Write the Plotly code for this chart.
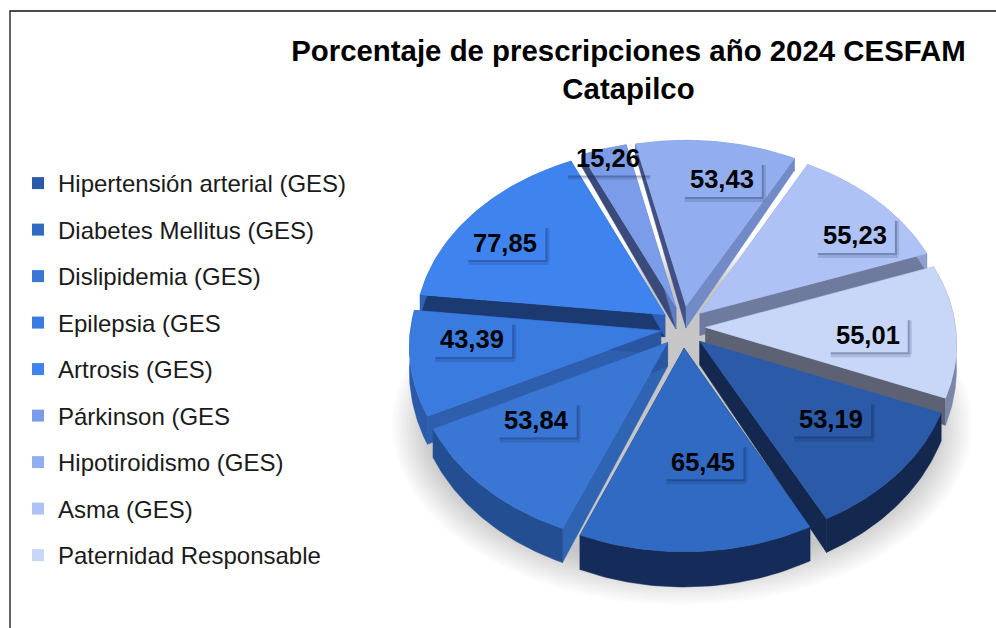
import numpy as np
import plotly.graph_objects as go

categories = ["Hipertensión arterial (GES)", "Diabetes Mellitus (GES)", "Dislipidemia (GES)",
              "Epilepsia (GES", "Artrosis (GES)", "Párkinson (GES", "Hipotiroidismo (GES)",
              "Asma (GES)", "Paternidad Responsable"]
values = [53.19, 65.45, 53.84, 43.39, 77.85, 15.26, 53.43, 55.23, 55.01]
value_labels = ["53,19", "65,45", "53,84", "43,39", "77,85", "15,26", "53,43", "55,23", "55,01"]
title_text = "Porcentaje de prescripciones año 2024 CESFAM<br>Catapilco"

# styles
top_colors = ["#2a5aa8", "#306ac2", "#3a76d4", "#3a7be0", "#3f84ee", "#7b9de9", "#92aeef", "#aec2f5", "#c8d6f8"]
start_wall = ["#5f6a8a", "#152c5a", "#2f63b4", "#2e5fae", "#1c3a72", "#3a4a7a", "#414f84", "#8f9fd0", "#9aa6c8"]
end_wall = ["#14274f", "#1d3f7c", "#2a55a0", "#2a55a0", "#2f5fb8", "#5f7cc0", "#728bc8", "#6e7a9e", "#5c6274"]
outer_wall = ["#14274f", "#152c5a", "#234f92", "#2a5aa8", "#2c62b8", "#5f7cc0", "#728bc8", "#8f9fd0", "#7c86a6"]
label_shift = [(-5, -13), (11, -25), (-5, -22), (-14, -14), (-24, 0), (-16, -36), (14, -9), (29, 2), (-13, 5)]
FONT = "Liberation Sans, Arial"

# geometry model
CX, CY, RX, RY, K, EXPLODE_X, EXPLODE_Y, THETA0 = 683, 327, 250, 183, 0.0826, 0.09, 0.115, np.deg2rad(112)
BOX_W, BOX_H = 80, 35


def project(X, Y, drop=False):
    s = 1 / (1 + K * Y)
    d = (23 - 11 * Y) if drop else 0
    return CX + RX * X * s, CY - RY * Y * s + d


fractions = np.array(values) / np.sum(values) * 2 * np.pi
ends = THETA0 + np.cumsum(fractions)
starts = ends - fractions
mids = (starts + ends) / 2
order = np.argsort(-np.cos(mids))

fig = go.Figure()


def poly(x, y, color):
    fig.add_trace(go.Scatter(x=np.append(x, x[0]), y=np.append(y, y[0]), mode="lines", fill="toself",
                             fillcolor=color, line=dict(color=color, width=0.5), hoverinfo="skip",
                             showlegend=False))


for i in order:
    ox, oy = EXPLODE_X * np.sin(mids[i]), EXPLODE_Y * np.cos(mids[i])
    t = np.linspace(starts[i], ends[i], 50)
    rim_X, rim_Y = ox + np.sin(t), oy + np.cos(t)
    tx, ty = project(rim_X, rim_Y)
    bx, by = project(rim_X, rim_Y, True)
    ax, ay = project(np.array([ox]), np.array([oy]))
    bax, bay = project(np.array([ox]), np.array([oy]), True)
    poly(np.array([ax[0], tx[0], bx[0], bax[0]]), np.array([ay[0], ty[0], by[0], bay[0]]), start_wall[i])
    poly(np.array([ax[0], tx[-1], bx[-1], bax[0]]), np.array([ay[0], ty[-1], by[-1], bay[0]]), end_wall[i])
    poly(np.concatenate([tx, bx[::-1]]), np.concatenate([ty, by[::-1]]), outer_wall[i])
    poly(np.concatenate([ax, tx]), np.concatenate([ay, ty]), top_colors[i])

# soft ground shadow
shapes = []
for j in range(20):
    f = j / 19
    shapes.append(dict(type="circle", xref="x", yref="y", layer="below",
                       x0=682 - 290 + 40 * f, x1=682 + 290 - 40 * f,
                       y0=425 - 180 + 40 * f, y1=425 + 180 - 40 * f,
                       line=dict(width=0), fillcolor="rgba(110,110,110,0.02)"))

annos = []
for i in range(len(values)):
    ox, oy = EXPLODE_X * np.sin(mids[i]), EXPLODE_Y * np.cos(mids[i])
    lx, ly = project(ox + 0.7 * np.sin(mids[i]), oy + 0.7 * np.cos(mids[i]))
    lx += label_shift[i][0]
    ly += label_shift[i][1]
    annos.append(dict(x=lx, y=ly, xref="x", yref="y", showarrow=False,
                      text="<b>" + value_labels[i] + "</b>", font=dict(family=FONT, size=25.5, color="black")))
    # soft shadow under the bottom and right sides of each label box
    L, R, T, B = lx - BOX_W / 2, lx + BOX_W / 2, ly - BOX_H / 2, ly + BOX_H / 2
    if i == 5:
        strips = [(L, R + 2, B, B + 2, 0.35), (L, R + 2, B + 2, B + 4, 0.15)]
    else:
        strips = [(L + 3, R + 2, B, B + 2, 0.35), (L + 3, R + 3, B + 2, B + 5, 0.15),
                  (R, R + 2, T + 3, B, 0.35), (R + 2, R + 4, T + 3, B + 2, 0.15)]
    for x0, x1, y0, y1, alpha in strips:
        shapes.append(dict(type="rect", xref="x", yref="y", layer="above", x0=x0, x1=x1, y0=y0, y1=y1,
                           line=dict(width=0), fillcolor=f"rgba(15,30,70,{alpha})"))

# legend entries
for i, c in enumerate(categories):
    fig.add_trace(go.Scatter(x=[None], y=[None], mode="markers", name=c, legendgroup=c,
                             marker=dict(symbol="square", size=12, color=top_colors[i])))

# outer frame (top and left edges, the rest is cropped off)
shapes.append(dict(type="rect", xref="x", yref="y", layer="above", x0=10, x1=1020, y0=11, y1=660,
                   line=dict(color="#111111", width=1.3)))

fig.update_layout(
    width=996, height=628, margin=dict(l=0, r=0, t=0, b=0),
    paper_bgcolor="white", plot_bgcolor="white",
    xaxis=dict(range=[0, 996], visible=False, fixedrange=True),
    yaxis=dict(range=[628, 0], visible=False, fixedrange=True),
    title=dict(text="<b>" + title_text + "</b>", x=628.5 / 996, xanchor="center", y=1 - 61 / 628, yanchor="top",
               font=dict(family=FONT, size=29.4, color="black")),
    legend=dict(x=18 / 996, y=1 - 161 / 628, xanchor="left", yanchor="top", tracegroupgap=12.3,
                font=dict(family=FONT, size=24, color="#1a1a1a"),
                bgcolor="rgba(0,0,0,0)"),
    shapes=shapes, annotations=annos,
)
fig.write_html("out.html", config={"displayModeBar": False},
               post_script="document.body.style.margin='0';")
